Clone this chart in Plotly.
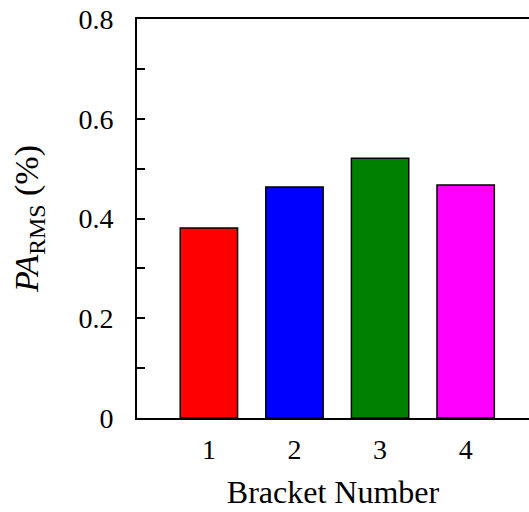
import plotly.graph_objects as go

brackets = [1, 2, 3, 4]
pa_rms = [0.381, 0.463, 0.521, 0.467]
bar_colors = ["#ff0000", "#0000ff", "#008000", "#ff00ff"]
y_ticks = [0, 0.2, 0.4, 0.6, 0.8]
y_tick_labels = ["0", "0.2", "0.4", "0.6", "0.8"]

font_family = "Liberation Serif, Times New Roman, serif"

fig = go.Figure(go.Bar(
    x=brackets, y=pa_rms, width=0.67,
    marker=dict(color=bar_colors, line=dict(color="black", width=1.5)),
))

fig.update_layout(
    width=529, height=512,
    margin=dict(l=137, r=0, t=19, b=94),
    paper_bgcolor="white", plot_bgcolor="white",
    showlegend=False,
    font=dict(family=font_family, size=28, color="black"),
    xaxis=dict(
        range=[0.16, 4.74], tickvals=brackets, ticktext=[str(b) for b in brackets],
        ticks="", showline=True, linecolor="black", linewidth=2, mirror=True,
        showgrid=False, zeroline=False, automargin=False,
        ticklabelstandoff=5,
        title=dict(text="Bracket Number", font=dict(size=32), standoff=17),
        tickfont=dict(size=28),
    ),
    yaxis=dict(
        range=[0, 0.8], tickvals=y_ticks, ticktext=y_tick_labels,
        ticks="inside", ticklen=8, tickwidth=1.5, tickcolor="black",
        minor=dict(dtick=0.1, ticks="inside", ticklen=8, tickwidth=1.5, tickcolor="black", showgrid=False),
        showline=True, linecolor="black", linewidth=2, mirror=False,
        showgrid=False, zeroline=False, automargin=False,
        ticklabelstandoff=16,
        title=dict(text="<i>PA</i><sub>RMS</sub> (%)", font=dict(size=34), standoff=30),
        tickfont=dict(size=28),
    ),
)

fig.write_html(
    "out.html",
    config={"displayModeBar": False},
    post_script="document.body.style.margin='0';document.body.style.padding='0';",
)
